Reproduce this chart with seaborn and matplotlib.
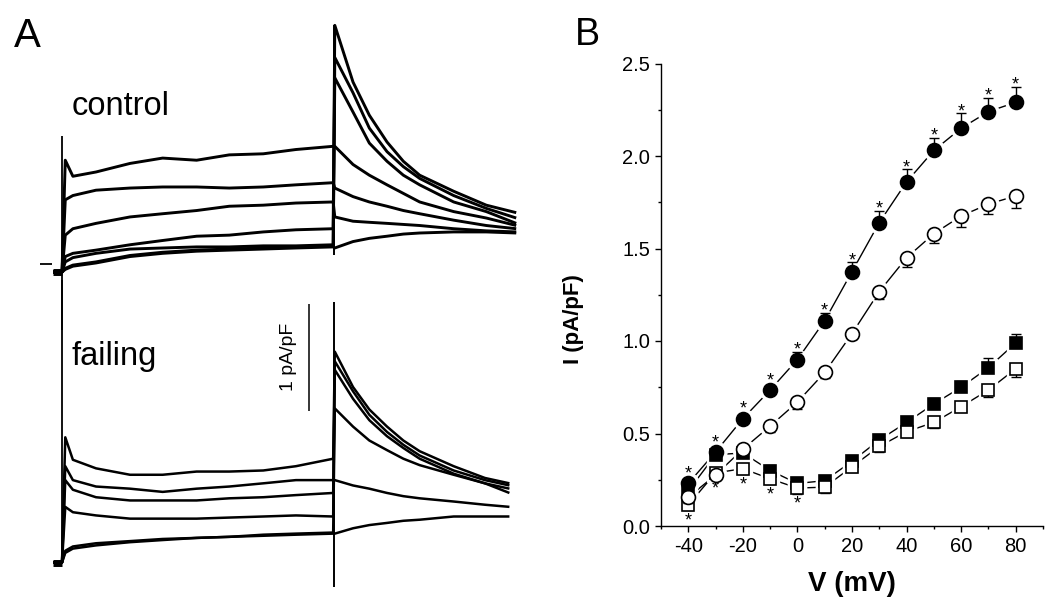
import matplotlib
matplotlib.use("Agg")
import matplotlib.pyplot as plt
import seaborn as sns
import pandas as pd
from matplotlib.ticker import MultipleLocator, FormatStrFormatter

# ---------------- panel A: current traces (t in ms, I in pA/pF) ----------------
hold_t = [-33, 0]
step_t = [12, 40, 125, 250, 370, 495, 615, 740, 860, 997]
ctrl_tail_t = [1003, 1070, 1130, 1195, 1255, 1315, 1440, 1560, 1670]
fail_tail_t = [1003, 1070, 1130, 1195, 1255, 1315, 1440, 1555, 1645]

ctrl_hold = -0.075
ctrl_step_a = [0.97, 0.82, 0.86, 0.94, 0.99, 0.97, 1.02, 1.03, 1.07, 1.10]
ctrl_step_b = [0.60, 0.64, 0.69, 0.71, 0.72, 0.72, 0.71, 0.72, 0.74, 0.76]
ctrl_step_c = [0.27, 0.33, 0.38, 0.44, 0.47, 0.50, 0.54, 0.55, 0.57, 0.58]
ctrl_step_d = [0.07, 0.10, 0.13, 0.18, 0.22, 0.26, 0.27, 0.30, 0.32, 0.33]
ctrl_step_e = [-0.04, -0.01, 0.02, 0.08, 0.11, 0.13, 0.14, 0.15, 0.16, 0.17]
ctrl_step_f = [0.02, 0.06, 0.10, 0.14, 0.15, 0.16, 0.16, 0.17, 0.17, 0.18]
ctrl_step_g = [-0.05, -0.02, 0.01, 0.07, 0.10, 0.12, 0.13, 0.14, 0.15, 0.16]
ctrl_tail_a = [1.10, 0.93, 0.83, 0.74, 0.66, 0.58, 0.49, 0.43, 0.36]
ctrl_tail_b = [0.71, 0.63, 0.58, 0.54, 0.50, 0.47, 0.41, 0.36, 0.33]
ctrl_tail_c = [0.44, 0.40, 0.39, 0.38, 0.37, 0.36, 0.33, 0.31, 0.30]
ctrl_tail_d = [2.23, 1.70, 1.39, 1.14, 0.96, 0.83, 0.68, 0.55, 0.48]
ctrl_tail_e = [1.93, 1.60, 1.27, 1.05, 0.91, 0.80, 0.64, 0.52, 0.43]
ctrl_tail_f = [1.74, 1.42, 1.13, 0.96, 0.83, 0.74, 0.58, 0.49, 0.38]
ctrl_tail_g = [0.15, 0.21, 0.24, 0.26, 0.28, 0.29, 0.30, 0.30, 0.29]
ctrl_on_spike = [1.20, -0.62]
ctrl_off_spike = [2.23, 0.08]
ctrl_zero_t = [-81, -37]

fail_hold = -0.07
fail_step_a = [1.10, 0.89, 0.81, 0.75, 0.75, 0.78, 0.78, 0.79, 0.83, 0.90]
fail_step_b = [0.83, 0.70, 0.64, 0.62, 0.59, 0.62, 0.64, 0.67, 0.70, 0.70]
fail_step_c = [0.70, 0.61, 0.54, 0.51, 0.51, 0.51, 0.53, 0.54, 0.56, 0.58]
fail_step_d = [0.45, 0.40, 0.37, 0.34, 0.34, 0.34, 0.35, 0.36, 0.37, 0.36]
fail_step_e = [0.02, 0.06, 0.09, 0.12, 0.14, 0.16, 0.17, 0.18, 0.19, 0.20]
fail_step_f = [0.04, 0.08, 0.11, 0.13, 0.15, 0.16, 0.17, 0.19, 0.20, 0.21]
fail_tail_a = [1.90, 1.57, 1.36, 1.20, 1.07, 0.97, 0.83, 0.72, 0.67]
fail_tail_b = [0.70, 0.65, 0.62, 0.58, 0.55, 0.53, 0.50, 0.47, 0.45]
fail_tail_c = [1.81, 1.53, 1.31, 1.15, 1.03, 0.93, 0.79, 0.70, 0.65]
fail_tail_d = [1.73, 1.46, 1.26, 1.11, 1.00, 0.90, 0.76, 0.67, 0.62]
fail_tail_e = [0.20, 0.25, 0.28, 0.30, 0.32, 0.33, 0.36, 0.36, 0.36]
fail_tail_f = [1.37, 1.20, 1.07, 0.98, 0.90, 0.84, 0.75, 0.67, 0.58]
fail_on_spike = [2.57, -0.02]
fail_off_spike = [2.36, -0.30]

scale_bar = [1.346, 2.346]   # 1 pA/pF

# ---------------- panel B: I-V relations ----------------
volts = [-40, -30, -20, -10, 0, 10, 20, 30, 40, 50, 60, 70, 80]
filled_circles = [0.23, 0.40, 0.58, 0.735, 0.90, 1.11, 1.375, 1.64, 1.86, 2.03, 2.15, 2.24, 2.29]
filled_circles_err = [0.02, 0.02, 0.02, 0.02, 0.04, 0.04, 0.05, 0.065, 0.07, 0.07, 0.08, 0.075, 0.085]
open_circles = [0.155, 0.276, 0.415, 0.54, 0.67, 0.83, 1.04, 1.267, 1.45, 1.58, 1.676, 1.74, 1.784]
open_circles_err = [0.03, 0.03, 0.03, 0.03, 0.04, 0.03, 0.03, 0.04, 0.05, 0.05, 0.06, 0.055, 0.065]
filled_squares = [0.19, 0.385, 0.395, 0.30, 0.23, 0.245, 0.35, 0.465, 0.56, 0.66, 0.75, 0.856, 0.99]
filled_squares_err = [0.02, 0.02, 0.02, 0.03, 0.03, 0.02, 0.02, 0.02, 0.02, 0.03, 0.035, 0.05, 0.05]
open_squares = [0.114, 0.287, 0.31, 0.255, 0.205, 0.21, 0.32, 0.43, 0.51, 0.56, 0.645, 0.735, 0.85]
open_squares_err = [0.03, 0.03, 0.03, 0.03, 0.03, 0.03, 0.03, 0.03, 0.03, 0.03, 0.02, 0.04, 0.045]
stars_below = [-40, -30, -20, -10, 0]

sns.set_style("ticks", {"text.color": "black", "axes.labelcolor": "black",
                        "xtick.color": "black", "ytick.color": "black",
                        "axes.edgecolor": "black"})
plt.rcParams["font.family"] = ["Liberation Sans", "DejaVu Sans"]
plt.rcParams["axes.unicode_minus"] = False

fig = plt.figure(figsize=(10.5, 6.11), dpi=100)


def sweeps_frame(hold, steps, tails, tail_t):
    rows = []
    for k, (s, tl) in enumerate(zip(steps, tails)):
        ts = hold_t + step_t + tail_t
        vs = [hold, hold] + s + tl
        rows += [{"sweep": k, "t": t, "I": v} for t, v in zip(ts, vs)]
    return pd.DataFrame(rows)


def seg(ax, xs, ys, lw):
    sns.lineplot(x=xs, y=ys, estimator=None, sort=False, color="black", lw=lw, ax=ax)


ctrl_df = sweeps_frame(ctrl_hold,
                       [ctrl_step_a, ctrl_step_b, ctrl_step_c, ctrl_step_d, ctrl_step_e, ctrl_step_f, ctrl_step_g],
                       [ctrl_tail_a, ctrl_tail_b, ctrl_tail_c, ctrl_tail_d, ctrl_tail_e, ctrl_tail_f, ctrl_tail_g],
                       ctrl_tail_t)
fail_df = sweeps_frame(fail_hold,
                       [fail_step_a, fail_step_b, fail_step_c, fail_step_d, fail_step_e, fail_step_f],
                       [fail_tail_a, fail_tail_b, fail_tail_c, fail_tail_d, fail_tail_e, fail_tail_f],
                       fail_tail_t)

ax_c = fig.add_axes([0, 311 / 611, 560 / 1050, 300 / 611])
ax_f = fig.add_axes([0, 0, 560 / 1050, 311 / 611])

for ax, df, lw, on, off, hold in [(ax_c, ctrl_df, 2.1, ctrl_on_spike, ctrl_off_spike, ctrl_hold),
                                  (ax_f, fail_df, 1.8, fail_on_spike, fail_off_spike, fail_hold)]:
    sns.lineplot(data=df, x="t", y="I", units="sweep", estimator=None, sort=False,
                 color="black", lw=lw, ax=ax)
    seg(ax, [0, 0], on, 1.3)
    seg(ax, [1000, 1000], off, 1.4)
    seg(ax, hold_t, [hold, hold], 5)
    ax.set_xlim(-228, 1831)
    ax.axis("off")

seg(ax_c, ctrl_zero_t, [0, 0], 1.3)
ax_c.set_ylim(-0.336, 2.467)
ax_f.set_ylim(-0.523, 2.383)

seg(ax_f, [908, 908], scale_bar, 1.1)
ax_f.text(831, sum(scale_bar) / 2 + 0.01, "1 pA/pF", rotation=90, ha="center", va="center", fontsize=14)

for ax in (ax_c, ax_f):
    for ln in ax.get_lines():
        ln.set_clip_on(False)
        ln.set_solid_capstyle("butt")

fig.text(72 / 1050, 1 - 115 / 611, "control", fontsize=23.5, ha="left", va="baseline")
fig.text(72 / 1050, 1 - 365 / 611, "failing", fontsize=23.5, ha="left", va="baseline")
fig.text(14 / 1050, 1 - 47 / 611, "A", fontsize=29, ha="left", va="baseline")
fig.text(575 / 1050, 1 - 45 / 611, "B", fontsize=27, ha="left", va="baseline")

# ---------------- panel B drawing ----------------
axb = fig.add_axes([661 / 1050, 85 / 611, 382 / 1050, 462.5 / 611])
series = [
    (filled_squares, filled_squares_err, "s", "black", 8.5, "up"),
    (open_squares, open_squares_err, "s", "white", 8.5, "down"),
    (open_circles, open_circles_err, "o", "white", 10, "down"),
    (filled_circles, filled_circles_err, "o", "black", 10, "up"),
]
for vals, err, mk, face, ms, side in series:
    sns.lineplot(x=volts, y=vals, color="black", lw=1.0, ax=axb, zorder=1)
for vals, err, mk, face, ms, side in series:
    axb.plot(volts, vals, ls="none", marker=mk, ms=ms + 5, mfc="white", mec="white", zorder=2)
for k, (vals, err, mk, face, ms, side) in enumerate(series):
    zero = [0] * len(err)
    yerr = [zero, err] if side == "up" else [err, zero]
    axb.errorbar(volts, vals, yerr=yerr, fmt="none", ecolor="black", elinewidth=1.0,
                 capsize=3.5, capthick=1.0, zorder=3 + 2 * k)
    axb.plot(volts, vals, ls="none", marker=mk, ms=ms, mfc=face, mec="black", mew=1.2,
             zorder=4 + 2 * k)

axb.set_xlim(-50, 90)
axb.set_ylim(0, 2.5)

# significance stars: above the filled circles (cap or circle top), below open squares
pt_per_unit = 462.5 * 0.72 / 2.5
for v, m, e in zip(volts, filled_circles, filled_circles_err):
    top = max(e * pt_per_unit, 5.6)
    axb.annotate("*", xy=(v, m), xytext=(0, top - 2.2), textcoords="offset points",
                 ha="center", va="baseline", fontsize=13)
for v, m, e in zip(volts, open_squares, open_squares_err):
    if v in stars_below:
        axb.annotate("*", xy=(v, m - e), xytext=(0, -11), textcoords="offset points",
                     ha="center", va="baseline", fontsize=13)

axb.xaxis.set_major_locator(MultipleLocator(20))
axb.xaxis.set_minor_locator(MultipleLocator(10))
axb.yaxis.set_major_locator(MultipleLocator(0.5))
axb.yaxis.set_minor_locator(MultipleLocator(0.25))
axb.yaxis.set_major_formatter(FormatStrFormatter("%.1f"))
axb.tick_params(which="major", length=4.3, width=1, pad=3.5, labelsize=14.5, color="black")
axb.tick_params(which="minor", length=2.5, width=1, color="black")
for side in ("top", "right"):
    axb.spines[side].set_visible(False)
for side in ("left", "bottom"):
    axb.spines[side].set_linewidth(1)
axb.set_xlabel("V (mV)", fontsize=20, fontweight="bold", labelpad=11)
axb.set_ylabel("I (pA/pF)", fontsize=16, fontweight="bold")
axb.yaxis.set_label_coords(-0.2016, 0.447)

fig.savefig("out.png", dpi=100)
